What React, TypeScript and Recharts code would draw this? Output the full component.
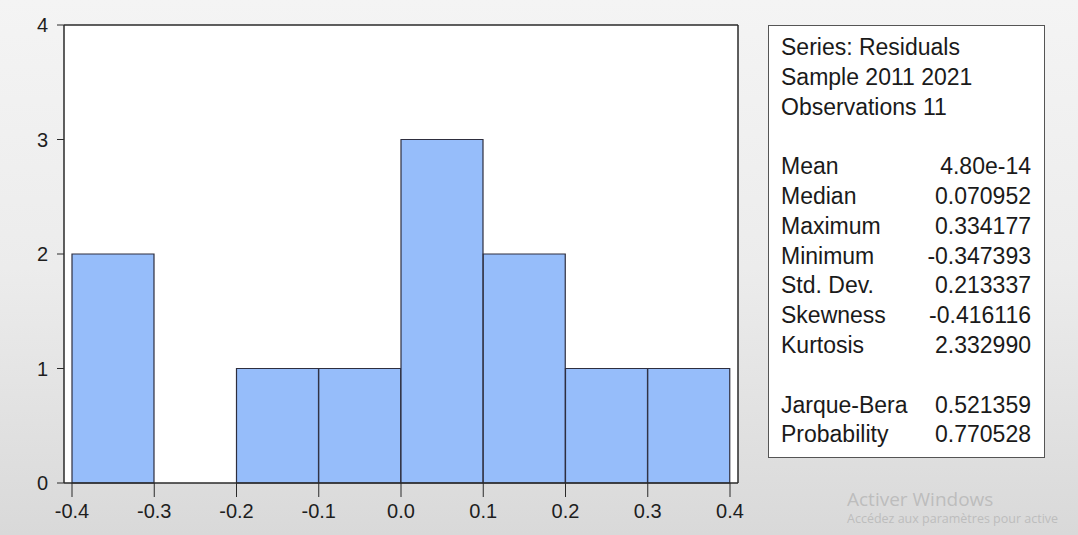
import React from 'react'
import { ComposedChart, Bar, Line, XAxis, YAxis, CartesianGrid } from 'recharts'

// histogram of residuals, bins of width 0.1
const binCenters = [-0.35, -0.25, -0.15, -0.05, 0.05, 0.15, 0.25, 0.35]
const counts = [2, 0, 1, 1, 3, 2, 1, 1]
const xTicks = [-0.4, -0.3, -0.2, -0.1, 0.0, 0.1, 0.2, 0.3, 0.4]
const yTicks = [0, 1, 2, 3, 4]

const headerLines = ['Series: Residuals', 'Sample 2011 2021', 'Observations 11']
const statNames = ['Mean', 'Median', 'Maximum', 'Minimum', 'Std. Dev.', 'Skewness', 'Kurtosis']
const statValues = ['4.80e-14', '0.070952', '0.334177', '-0.347393', '0.213337', '-0.416116', '2.332990']
const testNames = ['Jarque-Bera', 'Probability']
const testValues = ['0.521359', '0.770528']

const data = binCenters.map((x, i) => ({ x, count: counts[i] }))

const FONT = '"Liberation Sans", Arial, sans-serif'
const AXIS = '#2a2a2a'

const fmtX = (v: number) => v.toFixed(1)

function StatRow({ name, value }: { name: string; value: string }) {
  return (
    <div style={{ display: 'flex', justifyContent: 'space-between' }}>
      <span>{name}</span>
      <span>{value}</span>
    </div>
  )
}

function StatsBox() {
  return (
    <div style={{
      position: 'absolute', left: 768, top: 25, width: 277, height: 433,
      background: '#fff', border: '1.5px solid #555',
      fontFamily: FONT, fontSize: 23, lineHeight: '29.8px', color: '#1a1a1a',
      padding: '7px 13px 0 12px', boxSizing: 'border-box',
    }}>
      {headerLines.map(l => <div key={l}>{l}</div>)}
      <div style={{ height: 29.8 }} />
      {statNames.map((n, i) => <StatRow key={n} name={n} value={statValues[i]} />)}
      <div style={{ height: 29.8 }} />
      {testNames.map((n, i) => <StatRow key={n} name={n} value={testValues[i]} />)}
    </div>
  )
}

export default function App() {
  return (
    <div style={{
      position: 'absolute', left: 0, top: 0, width: 1078, height: 535, overflow: 'hidden',
      background: 'linear-gradient(to bottom, #f4f4f4 0%, #ececec 50%, #d9d9d9 100%)',
    }}>
      <ComposedChart width={1078} height={535} data={data} barCategoryGap={0} barGap={0}
        margin={{ top: 24, right: 339, bottom: 0, left: 0 }}>
        <CartesianGrid horizontal={false} vertical={false} fill="#ffffff" />
        {/* frame: top and right edges drawn as extra axes */}
        <XAxis xAxisId="top" orientation="top" dataKey="x" type="number" domain={[-0.4, 0.4]} padding={{ left: 8, right: 8 }}
          height={1} tick={false} tickLine={false} axisLine={{ stroke: AXIS, strokeWidth: 1.5 }} />
        <YAxis yAxisId="right" orientation="right" type="number" domain={[0, 4]}
          width={1} tick={false} tickLine={false} axisLine={{ stroke: AXIS, strokeWidth: 1.5 }} />
        <XAxis dataKey="x" type="number" domain={[-0.4, 0.4]} ticks={xTicks} tickFormatter={fmtX}
          padding={{ left: 8, right: 8 }} height={52} interval={0}
          tickSize={14} tickMargin={7} axisLine={{ stroke: AXIS, strokeWidth: 1.5 }}
          tickLine={{ stroke: AXIS }} tick={{ fill: '#1e1e1e', fontSize: 20, fontFamily: FONT }} />
        <YAxis type="number" domain={[0, 4]} ticks={yTicks} width={64} interval={0}
          tickSize={7} tickMargin={9} axisLine={{ stroke: AXIS, strokeWidth: 1.5 }}
          tickLine={{ stroke: AXIS }} tick={{ fill: '#1e1e1e', fontSize: 20, fontFamily: FONT }} />
        <Bar dataKey="count" fill="#96bdfa" stroke="#2e2e3e" strokeWidth={1.2} isAnimationActive={false} />
        {/* invisible series so the frame axes have data */}
        <Line xAxisId="top" yAxisId="right" dataKey="count" stroke="none" dot={false} activeDot={false}
          legendType="none" isAnimationActive={false} />
      </ComposedChart>
      <StatsBox />
      <div style={{ position: 'absolute', left: 847, top: 488, fontFamily: '"Open Sans", "Noto Sans", sans-serif', color: '#bdbdbd', whiteSpace: 'nowrap' }}>
        <div style={{ fontSize: 19, lineHeight: '22px' }}>Activer Windows</div>
        <div style={{ fontSize: 12.5, lineHeight: '18px' }}>Accédez aux paramètres pour active</div>
      </div>
    </div>
  )
}
